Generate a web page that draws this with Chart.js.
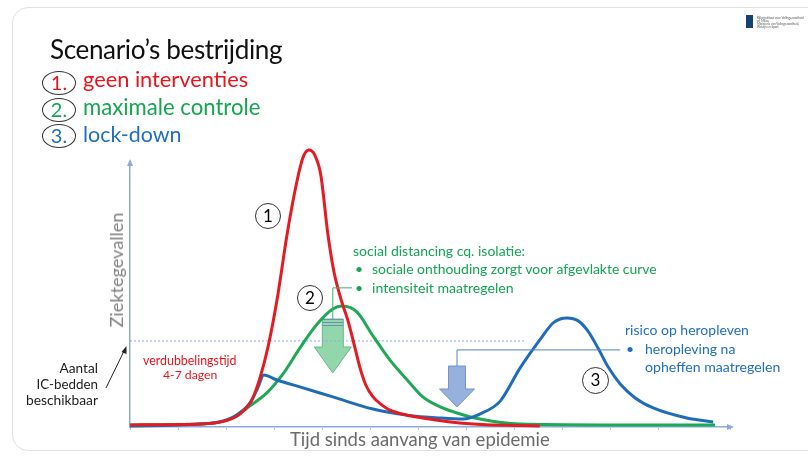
<!DOCTYPE html>
<html>
<head>
<meta charset="utf-8">
<script src="https://cdn.jsdelivr.net/npm/chart.js@4.4.1/dist/chart.umd.min.js"></script>
<style>
  html, body { margin: 0; padding: 0; background: #fff; }
  #wrap { position: relative; width: 808px; height: 459px; overflow: hidden; font-family: Lato, "Open Sans", sans-serif; }
  #card { position: absolute; left: 12px; top: 7px; width: 840px; height: 442px; border: 1px solid #dde2e8; border-radius: 16px; background: #fff; }
  #myChart { position: absolute; left: 0; top: 0; }
  .t { position: absolute; white-space: nowrap; line-height: 1; transform: translateY(-63%); }
  .r { transform: translate(-100%, -63%); }
  .rood { color: #e8141c; }
  .groen { color: #14a650; }
  .blauw { color: #1f6fbf; }
  .num { position: absolute; border: 1.2px solid #333; border-radius: 50%; box-sizing: border-box; text-align: center; }
  #ylabel { position: absolute; left: 116px; top: 270px; transform: translate(-50%, -50%) rotate(-90deg); white-space: nowrap; line-height: 1; color: #808080; }
  #logo { position: absolute; left: 746px; top: 15px; width: 7px; height: 13px; background: #154273; }
  #logotxt { position: absolute; left: 757px; top: 17px; font-size: 3px; line-height: 3px; color: #555; white-space: nowrap; }
</style>
</head>
<body>
<div id="wrap">
  <div id="card"></div>
  <canvas id="myChart" width="808" height="459"></canvas>

  <div id="logo"></div>
  <div id="logotxt">Rijksinstituut voor Volksgezondheid<br>en Milieu<br>Ministerie van Volksgezondheid,<br>Welzijn en Sport</div>

  <div class="t" style="left:50px;top:52px;color:#111;font-size:25px;letter-spacing:-0.4px" data-w="232">Scenario’s bestrijding</div>

  <div class="num rood" style="left:42px;top:71px;width:34px;height:24px;font-size:20px;line-height:21px">1.</div>
  <div class="t rood" style="left:83px;top:82px;font-size:21px" data-w="165">geen interventies</div>
  <div class="num groen" style="left:42px;top:98px;width:34px;height:24px;font-size:20px;line-height:21px">2.</div>
  <div class="t groen" style="left:83px;top:110px;font-size:21px" data-w="177">maximale controle</div>
  <div class="num blauw" style="left:42px;top:124px;width:34px;height:24px;font-size:20px;line-height:21px">3.</div>
  <div class="t blauw" style="left:83px;top:138px;font-size:21px" data-w="99">lock-down</div>

  <div class="num" style="left:255px;top:203px;width:26px;height:26px;font-size:17px;line-height:23px">1</div>
  <div class="num" style="left:297px;top:285px;width:26px;height:26px;font-size:17px;line-height:23px">2</div>
  <div class="num" style="left:582px;top:367px;width:27px;height:27px;font-size:17px;line-height:24px">3</div>

  <div class="t groen" style="left:353px;top:253px;font-size:14px" data-w="172">social distancing cq. isolatie:</div>
  <div class="t groen" style="left:355px;top:271px;font-size:14px">•</div>
  <div class="t groen" style="left:372px;top:271px;font-size:14px" data-w="285">sociale onthouding zorgt voor afgevlakte curve</div>
  <div class="t groen" style="left:355px;top:290px;font-size:14px">•</div>
  <div class="t groen" style="left:372px;top:290px;font-size:14px" data-w="142">intensiteit maatregelen</div>

  <div class="t blauw" style="left:625px;top:332px;font-size:14px" data-w="124">risico op heropleven</div>
  <div class="t blauw" style="left:626px;top:351px;font-size:14px">•</div>
  <div class="t blauw" style="left:645px;top:351px;font-size:14px" data-w="90">heropleving na</div>
  <div class="t blauw" style="left:645px;top:369px;font-size:14px" data-w="135">opheffen maatregelen</div>

  <div class="t rood" style="left:143px;top:363px;font-size:12px" data-w="94">verdubbelingstijd</div>
  <div class="t rood" style="left:163px;top:377px;font-size:12px" data-w="54">4-7 dagen</div>

  <div class="t r" style="left:98px;top:371px;font-size:14px;color:#222" data-w="38">Aantal</div>
  <div class="t r" style="left:98px;top:386px;font-size:14px;color:#222" data-w="62">IC-bedden</div>
  <div class="t r" style="left:98px;top:402px;font-size:14px;color:#222" data-w="72">beschikbaar</div>

  <div id="ylabel" style="font-size:17px" data-w="115">Ziektegevallen</div>
  <div class="t" style="left:290px;top:442px;font-size:18px;color:#6b6b6b" data-w="260">Tijd sinds aanvang van epidemie</div>
</div>

<script>
// tijd (x) en ziektegevallen (y)
const roodX = [0, 11.7, 15.8, 18.3, 20.3, 21.7, 23.0, 24.5, 26.3, 27.8, 28.8, 29.8, 30.8, 31.8, 33.0, 34.0, 35.2, 36.3, 37.3, 38.3, 39.3, 40.5, 42.0, 43.3, 48.8, 57.2, 68.3];
const roodY = [0.8, 1.1, 2.3, 4.9, 10.2, 18.9, 30.3, 48.1, 74.6, 92.8, 101.9, 104.9, 103.0, 95.5, 72.7, 58.7, 48.1, 40.5, 31.8, 22.7, 15.9, 11.4, 8.3, 6.4, 3.4, 1.1, 0.4];

const groenX = [0, 11.7, 16.7, 20.0, 22.8, 25.5, 28.3, 31.2, 33.8, 35.3, 37.8, 40.5, 43.3, 46.2, 48.8, 51.7, 54.5, 58.3, 65.0, 78.3, 97.5];
const groenY = [0.8, 1.1, 3.0, 8.0, 12.9, 20.1, 29.9, 39.0, 44.7, 45.8, 43.6, 34.5, 25.4, 17.8, 11.4, 7.6, 5.3, 3.0, 1.1, 0.8, 0.8];

const blauwX = [0, 11.7, 17.2, 20.0, 21.3, 22.3, 24.5, 28.3, 33.8, 40.5, 46.2, 51.7, 55.5, 58.3, 61.7, 65.0, 68.3, 70.5, 71.7, 72.8, 74.7, 76.3, 78.0, 79.7, 81.7, 84.2, 87.2, 92.8, 97.2];
const blauwY = [0.4, 1.1, 3.8, 9.1, 14.8, 19.7, 17.8, 15.2, 11.4, 6.8, 4.5, 3.4, 3.0, 4.9, 9.8, 22.3, 33.0, 39.4, 40.9, 41.3, 40.2, 36.4, 29.9, 22.7, 16.3, 11.0, 7.2, 3.4, 1.9];

// aantal IC-bedden (stippellijn)
const icX = [0, 65.8];
const icY = [32.6, 32.6];

const punten = (xs, ys) => xs.map((x, i) => ({x: x, y: ys[i]}));

// pijlen en verbindingslijnen (in as-eenheden)
const pijlGroen = {x: 33.8, top: 40.9, neck: 30.3, tip: 20.5};
const pijlBlauw = {x: 54.5, top: 23.1, neck: 14.4, tip: 7.6};

function blokPijl(ctx, cx, top, neck, tip, half, head, fill, stroke) {
  ctx.beginPath();
  ctx.moveTo(cx - half, top);
  ctx.lineTo(cx + half, top);
  ctx.lineTo(cx + half, neck);
  ctx.lineTo(cx + head, neck);
  ctx.lineTo(cx, tip);
  ctx.lineTo(cx - head, neck);
  ctx.lineTo(cx - half, neck);
  ctx.closePath();
  ctx.fillStyle = fill;
  ctx.fill();
  ctx.lineWidth = 1;
  ctx.strokeStyle = stroke;
  ctx.stroke();
}

const extras = {
  id: 'extras',
  beforeDatasetsDraw(chart) {
    const {ctx, scales: {x, y}} = chart;
    ctx.save();
    let cx = x.getPixelForValue(pijlGroen.x), top = y.getPixelForValue(pijlGroen.top);
    blokPijl(ctx, cx, top, y.getPixelForValue(pijlGroen.neck), y.getPixelForValue(pijlGroen.tip), 10.5, 18.5, '#92d7ab', '#66b889');
    ctx.strokeStyle = '#6f8fb5';
    ctx.lineWidth = 1;
    [0.5, 3.5, 6.5].forEach(d => {
      ctx.beginPath();
      ctx.moveTo(cx - 10.5, top + d);
      ctx.lineTo(cx + 10.5, top + d);
      ctx.stroke();
    });
    blokPijl(ctx, x.getPixelForValue(pijlBlauw.x), y.getPixelForValue(pijlBlauw.top), y.getPixelForValue(pijlBlauw.neck), y.getPixelForValue(pijlBlauw.tip), 8.5, 17.5, '#97b1de', '#7393c9');
    ctx.restore();
  },
  afterDatasetsDraw(chart) {
    const {ctx, chartArea: a, scales: {x, y}} = chart;
    ctx.save();
    ctx.lineWidth = 1;
    // verbindingslijn groen
    ctx.strokeStyle = '#3fae6c';
    ctx.beginPath();
    ctx.moveTo(x.getPixelForValue(37.0), y.getPixelForValue(52.7));
    ctx.lineTo(x.getPixelForValue(pijlGroen.x), y.getPixelForValue(52.7));
    ctx.lineTo(x.getPixelForValue(pijlGroen.x), y.getPixelForValue(pijlGroen.top));
    ctx.stroke();
    // verbindingslijn blauw
    ctx.strokeStyle = '#5482c4';
    ctx.beginPath();
    ctx.moveTo(x.getPixelForValue(pijlBlauw.x), y.getPixelForValue(pijlBlauw.top));
    ctx.lineTo(x.getPixelForValue(pijlBlauw.x), y.getPixelForValue(29.2));
    ctx.lineTo(x.getPixelForValue(81.7), y.getPixelForValue(29.2));
    ctx.stroke();
    // pijlpunten van de assen
    ctx.fillStyle = '#8eaadb';
    ctx.beginPath();
    ctx.moveTo(a.left, a.top - 4);
    ctx.lineTo(a.left - 3, a.top + 3);
    ctx.lineTo(a.left + 3, a.top + 3);
    ctx.fill();
    ctx.beginPath();
    ctx.moveTo(a.right + 4, a.bottom);
    ctx.lineTo(a.right - 3, a.bottom - 3);
    ctx.lineTo(a.right - 3, a.bottom + 3);
    ctx.fill();
    // pijl naar IC-bedden
    ctx.strokeStyle = '#222';
    ctx.fillStyle = '#222';
    ctx.beginPath();
    ctx.moveTo(106, 388);
    ctx.lineTo(125, 349);
    ctx.stroke();
    ctx.beginPath();
    ctx.moveTo(126.5, 346);
    ctx.lineTo(121.5, 352);
    ctx.lineTo(126.5, 354);
    ctx.fill();
    ctx.restore();
  }
};

const ctx = document.getElementById('myChart');

new Chart(ctx, {
  type: 'line',
  data: {
    datasets: [
      {
        label: 'geen interventies',
        data: punten(roodX, roodY),
        borderColor: '#e31b23',
        borderWidth: 3,
        pointRadius: 0,
        cubicInterpolationMode: 'monotone',
        clip: false
      },
      {
        label: 'lock-down',
        data: punten(blauwX, blauwY),
        borderColor: '#1f6db8',
        borderWidth: 3,
        pointRadius: 0,
        cubicInterpolationMode: 'monotone',
        clip: false
      },
      {
        label: 'maximale controle',
        data: punten(groenX, groenY),
        borderColor: '#1fa855',
        borderWidth: 3,
        pointRadius: 0,
        cubicInterpolationMode: 'monotone',
        clip: false
      },
      {
        label: 'IC-bedden',
        data: punten(icX, icY),
        borderColor: '#8eaadb',
        borderWidth: 1,
        borderDash: [2, 2],
        pointRadius: 0,
        clip: false
      }
    ]
  },
  options: {
    responsive: false,
    animation: false,
    layout: { padding: { left: 130, right: 78, top: 163, bottom: 32 } },
    plugins: { legend: { display: false }, tooltip: { enabled: false } },
    scales: {
      x: {
        type: 'linear',
        min: 0,
        max: 100,
        ticks: { display: false, stepSize: 8 },
        grid: { display: true, drawOnChartArea: false, drawTicks: true, tickLength: 3, color: '#a9bfe4' },
        border: { color: '#8eaadb', width: 1.5 },
        afterFit: s => { s.height = 0; }
      },
      y: {
        min: 0,
        max: 100,
        ticks: { display: false },
        grid: { display: false },
        border: { color: '#8eaadb', width: 1.5 },
        afterFit: s => { s.width = 0; }
      }
    }
  },
  plugins: [extras]
});

// tekstbreedtes gelijk maken aan de figuur
function passen() {
  document.querySelectorAll('[data-w]').forEach(el => {
    const fs = parseFloat(el.style.fontSize);
    const w = el.offsetWidth;
    if (w > 0) el.style.fontSize = (fs * el.dataset.w / w).toFixed(2) + 'px';
  });
}
passen();
</script>
</body>
</html>
